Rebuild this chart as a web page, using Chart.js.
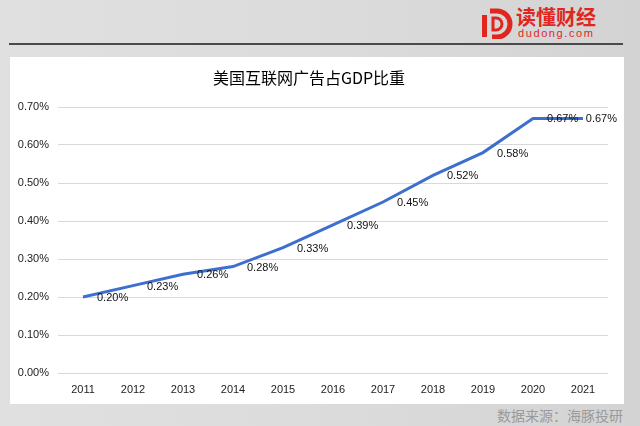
<!DOCTYPE html>
<html>
<head>
<meta charset="utf-8">
<script src="https://cdn.jsdelivr.net/npm/chart.js@4/dist/chart.umd.min.js"></script>
<style>
html,body{margin:0;padding:0;}
body{width:640px;height:426px;position:relative;overflow:hidden;
  background:linear-gradient(90deg,#e0e0e0 0%,#dbdbdb 55%,#d3d3d3 100%);
  font-family:"Noto Sans CJK SC",sans-serif;}
#rule{position:absolute;left:9px;top:43px;width:614px;height:2px;background:#4a4a4a;}
#panel{position:absolute;left:10px;top:57px;width:614px;height:347px;background:#fff;}
#logoIcon{position:absolute;left:481px;top:8px;}
#logoText{position:absolute;left:516px;top:4px;font-size:20px;font-weight:bold;color:#e0261f;letter-spacing:0px;line-height:26px;white-space:nowrap;}
#logoSub{position:absolute;left:518px;top:27px;font-family:"Liberation Sans",sans-serif;font-size:11px;color:#e0261f;letter-spacing:1.6px;line-height:12px;white-space:nowrap;}
#source{position:absolute;right:17px;top:405px;font-size:14px;color:#9a9a9a;line-height:20px;white-space:nowrap;}
</style>
</head>
<body>
<div id="rule"></div>
<svg id="logoIcon" width="33" height="31" viewBox="0 0 33 31">
  <rect x="1" y="7" width="5" height="22" fill="#e0261f"/>
  <path d="M9 3 H16 A13 13 0 0 1 16 29 H11" fill="none" stroke="#e0261f" stroke-width="5"/>
  <path d="M12 10 H15 A6 6 0 0 1 15 22 H12 Z" fill="none" stroke="#e0261f" stroke-width="3"/>
</svg>
<div id="logoText">读懂财经</div>
<div id="logoSub">dudong.com</div>
<div id="panel"><canvas id="c" width="614" height="347"></canvas></div>
<div id="source">数据来源：海豚投研</div>
<script>
const categories = ['2011','2012','2013','2014','2015','2016','2017','2018','2019','2020','2021'];
const shareOfGdp = [0.20,0.23,0.26,0.28,0.33,0.39,0.45,0.52,0.58,0.67,0.67];
const chartTitle = '美国互联网广告占GDP比重';
const yMin = 0, yMax = 0.7, yStep = 0.1;

const fmt = v => v.toFixed(2) + '%';

const pointLabels = {
  id: 'pointLabels',
  afterDatasetsDraw(chart) {
    const ctx = chart.ctx;
    const meta = chart.getDatasetMeta(0);
    ctx.save();
    ctx.font = '11px "Liberation Sans"';
    ctx.fillStyle = '#111';
    ctx.textBaseline = 'middle';
    ctx.textAlign = 'left';
    meta.data.forEach((pt, i) => {
      const txt = fmt(shareOfGdp[i]);
      const w = ctx.measureText(txt).width;
      let x = pt.x + 14;
      const maxX = chart.width - 7 - w;
      if (x > maxX) x = maxX;
      ctx.fillText(txt, x, pt.y + 1);
    });
    ctx.restore();
  }
};

new Chart(document.getElementById('c'), {
  type: 'line',
  data: {
    labels: categories,
    datasets: [{
      data: shareOfGdp,
      borderColor: '#3d6fce',
      borderWidth: 3,
      pointRadius: 0,
      tension: 0,
      fill: false
    }]
  },
  options: {
    responsive: false,
    animation: false,
    layout: { padding: { left: 0, right: 16, top: 0, bottom: 0 } },
    plugins: {
      legend: { display: false },
      tooltip: { enabled: false },
      title: {
        display: true,
        text: chartTitle,
        color: '#000',
        font: { family: '"Noto Sans CJK SC"', size: 16, weight: 'normal' },
        padding: { top: 11, bottom: 19.8 }
      }
    },
    scales: {
      x: {
        offset: true,
        grid: { display: false, drawTicks: false },
        border: { display: false },
        ticks: { color: '#222', font: { family: '"Liberation Sans"', size: 11 }, padding: 10, maxRotation: 0 },
        afterFit(s) { s.height = 31; }
      },
      y: {
        min: yMin, max: yMax,
        grid: { color: '#d9d9d9', drawTicks: false, lineWidth: 1 },
        border: { display: false },
        ticks: { stepSize: yStep, color: '#222', font: { family: '"Liberation Sans"', size: 11 }, padding: 9,
          callback: v => fmt(v) },
        afterFit(s) { s.width = 48; }
      }
    }
  },
  plugins: [pointLabels]
});
</script>
</body>
</html>
